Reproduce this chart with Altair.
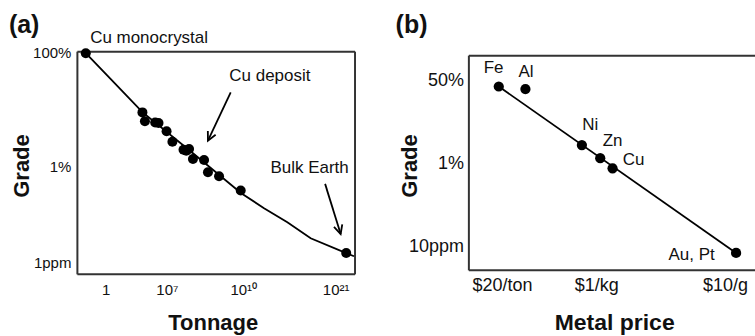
import altair as alt
import pandas as pd

FONT = "Liberation Sans"
INK = "#111111"
FRAME = "#333333"

# ---------------- Panel (a): Grade vs Tonnage (schematic axis positions, 0-100) ----------------
a_x_tick_pos = [10.4, 32.4, 59.9, 93.2]
a_x_tick_labels = ["1", "10⁷", "10¹⁰", "10²¹"]
a_y_tick_pos = [99.6, 48.0, 4.9]
a_y_tick_labels = ["100%", "1%", "1ppm"]

a_point_x = [3.2, 23.6, 24.5, 28.2, 29.4, 32.3, 34.4, 38.4, 39.4, 40.4, 41.8, 45.8, 47.2, 51.2, 59.0, 97.0]
a_point_y = [99.1, 72.5, 68.5, 68.0, 67.7, 64.0, 59.3, 55.7, 55.3, 56.1, 51.6, 51.1, 45.6, 43.8, 37.4, 9.4]

a_line_x = [3.2, 12.2, 23.6, 41.7, 59.2, 67.4, 75.8, 84.2, 96.8, 99.8]
a_line_y = [99.1, 87.4, 72.6, 54.3, 36.2, 29.5, 23.2, 16.0, 9.4, 7.9]

a_label_text = ["Cu monocrystal", "Cu deposit", "Bulk Earth"]
a_label_x = [26.0, 69.5, 83.8]
a_label_y = [105.7, 88.8, 47.5]

a_arrow_x = [55.4, 89.4]
a_arrow_y = [81.5, 40.4]
a_arrow_x2 = [47.2, 95.0]
a_arrow_y2 = [59.8, 17.9]
a_arrow_angle = [26, 343]

a_panel_tag = ["(a)"]
a_tag_x = [-24.5]
a_tag_y = [108.2]

# ---------------- Panel (b): Grade vs Metal price ----------------
b_x_tick_pos = [11.7, 44.6, 89.5]
b_x_tick_labels = ["$20/ton", "$1/kg", "$10/g"]
b_y_tick_pos = [88.4, 49.6, 10.8]
b_y_tick_labels = ["50%", "1%", "10ppm"]

b_metal = ["Fe", "Al", "Ni", "Zn", "Cu", "Au, Pt"]
b_point_x = [10.6, 19.9, 39.6, 46.0, 50.3, 93.4]
b_point_y = [85.4, 84.2, 58.1, 52.0, 47.3, 7.9]
b_label_x = [8.8, 20.1, 42.5, 50.3, 57.6, 77.9]
b_label_y = [94.0, 92.1, 67.4, 60.1, 51.2, 7.0]

b_line_x = [10.6, 93.4]
b_line_y = [85.4, 7.9]

b_panel_tag = ["(b)"]
b_tag_x = [-25.4]
b_tag_y = [110.4]


def lab_expr(pos, labels):
    return f"{labels}[indexof({pos}, datum.value)]"


ARROW_V = "M -0.5 -1 L 0 0 L 0.5 -1"

common_axis = dict(ticks=False, grid=False, domainColor=FRAME, domainWidth=2,
                   labelFont=FONT, labelColor=INK, titleFont=FONT, titleColor=INK,
                   labelOverlap=False, labelFlush=False)
frame_axis = dict(labels=False, ticks=False, grid=False, title=None,
                  domainColor=FRAME, domainWidth=2)

# ---------- panel a ----------
xa = alt.Scale(domain=[0, 100], nice=False, zero=False)
ya = alt.Scale(domain=[0, 100], nice=False, zero=False)

ax_a_bottom = alt.Axis(orient="bottom", values=a_x_tick_pos,
                       labelExpr=lab_expr(a_x_tick_pos, a_x_tick_labels),
                       labelFontSize=15, labelPadding=9,
                       title="Tonnage", titleFontSize=22, titleFontWeight="bold",
                       titleX=136, titleY=56, titleBaseline="alphabetic", titleAlign="center",
                       **common_axis)
ax_a_left = alt.Axis(orient="left", values=a_y_tick_pos,
                     labelExpr=lab_expr(a_y_tick_pos, a_y_tick_labels),
                     labelFontSize=15, labelPadding=6,
                     title="Grade", titleFontSize=22, titleFontWeight="bold",
                     titleX=-48.5, titleY=114.5, titleBaseline="alphabetic", titleAlign="center",
                     titleAngle=270, **common_axis)
ax_a_top = alt.Axis(orient="top", **frame_axis)
ax_a_right = alt.Axis(orient="right", **frame_axis)

df_a_line = pd.DataFrame({"x": a_line_x, "y": a_line_y})
df_a_pts = pd.DataFrame({"x": a_point_x, "y": a_point_y})
df_a_lab = pd.DataFrame({"x": a_label_x, "y": a_label_y, "t": a_label_text})
df_a_arr = pd.DataFrame({"x": a_arrow_x, "y": a_arrow_y, "x2": a_arrow_x2,
                         "y2": a_arrow_y2, "ang": a_arrow_angle})
df_a_tag = pd.DataFrame({"x": a_tag_x, "y": a_tag_y, "t": a_panel_tag})

a_line = alt.Chart(df_a_line).mark_line(color="black", strokeWidth=1.8).encode(
    x=alt.X("x:Q", scale=xa, axis=ax_a_bottom),
    y=alt.Y("y:Q", scale=ya, axis=ax_a_left),
)
a_shaft = alt.Chart(df_a_arr).mark_rule(color="black", strokeWidth=1.8).encode(
    x=alt.X("x:Q", scale=xa, axis=None), y=alt.Y("y:Q", scale=ya, axis=None),
    x2="x2:Q", y2="y2:Q",
)
a_head = alt.Chart(df_a_arr).mark_point(shape=ARROW_V, size=300, filled=False,
                                        color="black", strokeWidth=1.8, opacity=1).encode(
    x=alt.X("x2:Q", scale=xa, axis=None), y=alt.Y("y2:Q", scale=ya, axis=None),
    angle=alt.Angle("ang:Q", scale=None),
)
a_pts = alt.Chart(df_a_pts).mark_circle(size=100, color="black", opacity=1).encode(
    x=alt.X("x:Q", scale=xa, axis=ax_a_top),
    y=alt.Y("y:Q", scale=ya, axis=ax_a_right),
)
a_txt = alt.Chart(df_a_lab).mark_text(font=FONT, fontSize=17, color=INK,
                                      align="center", baseline="middle").encode(
    x=alt.X("x:Q", scale=xa, axis=None), y=alt.Y("y:Q", scale=ya, axis=None),
    text="t:N",
)
a_tag = alt.Chart(df_a_tag).mark_text(font=FONT, fontSize=25, fontWeight="bold", color=INK,
                                      align="left", baseline="alphabetic").encode(
    x=alt.X("x:Q", scale=xa, axis=None), y=alt.Y("y:Q", scale=ya, axis=None),
    text="t:N",
)

panel_a = alt.layer(a_line, a_shaft, a_head, a_pts, a_txt, a_tag).resolve_axis(
    x="independent", y="independent"
).properties(width=278, height=223)

# ---------- panel b ----------
xb = alt.Scale(domain=[0, 100], nice=False, zero=False)
yb = alt.Scale(domain=[0, 100], nice=False, zero=False, range=[219, 4])

ax_b_bottom = alt.Axis(orient="bottom", offset=-4, values=b_x_tick_pos,
                       labelExpr=lab_expr(b_x_tick_pos, b_x_tick_labels),
                       labelFontSize=18, labelPadding=7,
                       title="Metal price", titleFontSize=23, titleFontWeight="bold",
                       titleX=146, titleY=60, titleBaseline="alphabetic", titleAlign="center",
                       **common_axis)
ax_b_left = alt.Axis(orient="left", values=b_y_tick_pos,
                     labelExpr=lab_expr(b_y_tick_pos, b_y_tick_labels),
                     labelFontSize=18, labelPadding=5,
                     title="Grade", titleFontSize=22, titleFontWeight="bold",
                     titleX=-51.5, titleY=114.5, titleBaseline="alphabetic", titleAlign="center",
                     titleAngle=270, **common_axis)
ax_b_top = alt.Axis(orient="top", offset=-4, **frame_axis)

df_b_line = pd.DataFrame({"x": b_line_x, "y": b_line_y})
df_b_pts = pd.DataFrame({"x": b_point_x, "y": b_point_y, "m": b_metal})
df_b_lab = pd.DataFrame({"x": b_label_x, "y": b_label_y, "t": b_metal})
df_b_tag = pd.DataFrame({"x": b_tag_x, "y": b_tag_y, "t": b_panel_tag})

b_line = alt.Chart(df_b_line).mark_line(color="black", strokeWidth=1.8).encode(
    x=alt.X("x:Q", scale=xb, axis=ax_b_bottom),
    y=alt.Y("y:Q", scale=yb, axis=ax_b_left),
)
b_pts = alt.Chart(df_b_pts).mark_circle(size=105, color="black", opacity=1).encode(
    x=alt.X("x:Q", scale=xb, axis=ax_b_top),
    y=alt.Y("y:Q", scale=yb, axis=None),
)
b_txt = alt.Chart(df_b_lab).mark_text(font=FONT, fontSize=17, color=INK,
                                      align="center", baseline="middle").encode(
    x=alt.X("x:Q", scale=xb, axis=None), y=alt.Y("y:Q", scale=yb, axis=None),
    text="t:N",
)
b_tag = alt.Chart(df_b_tag).mark_text(font=FONT, fontSize=25, fontWeight="bold", color=INK,
                                      align="left", baseline="alphabetic").encode(
    x=alt.X("x:Q", scale=xb, axis=None), y=alt.Y("y:Q", scale=yb, axis=None),
    text="t:N",
)

panel_b = alt.layer(b_line, b_pts, b_txt, b_tag).resolve_axis(
    x="independent", y="independent"
).properties(width=287, height=223)

chart = alt.hconcat(panel_a, panel_b, spacing=114, bounds="flush").properties(
    padding={"left": 8, "top": 12, "right": 0, "bottom": 0},
    background="white",
).configure_view(stroke=None)

chart.save("out.html", embed_options={"renderer": "svg", "actions": False})
